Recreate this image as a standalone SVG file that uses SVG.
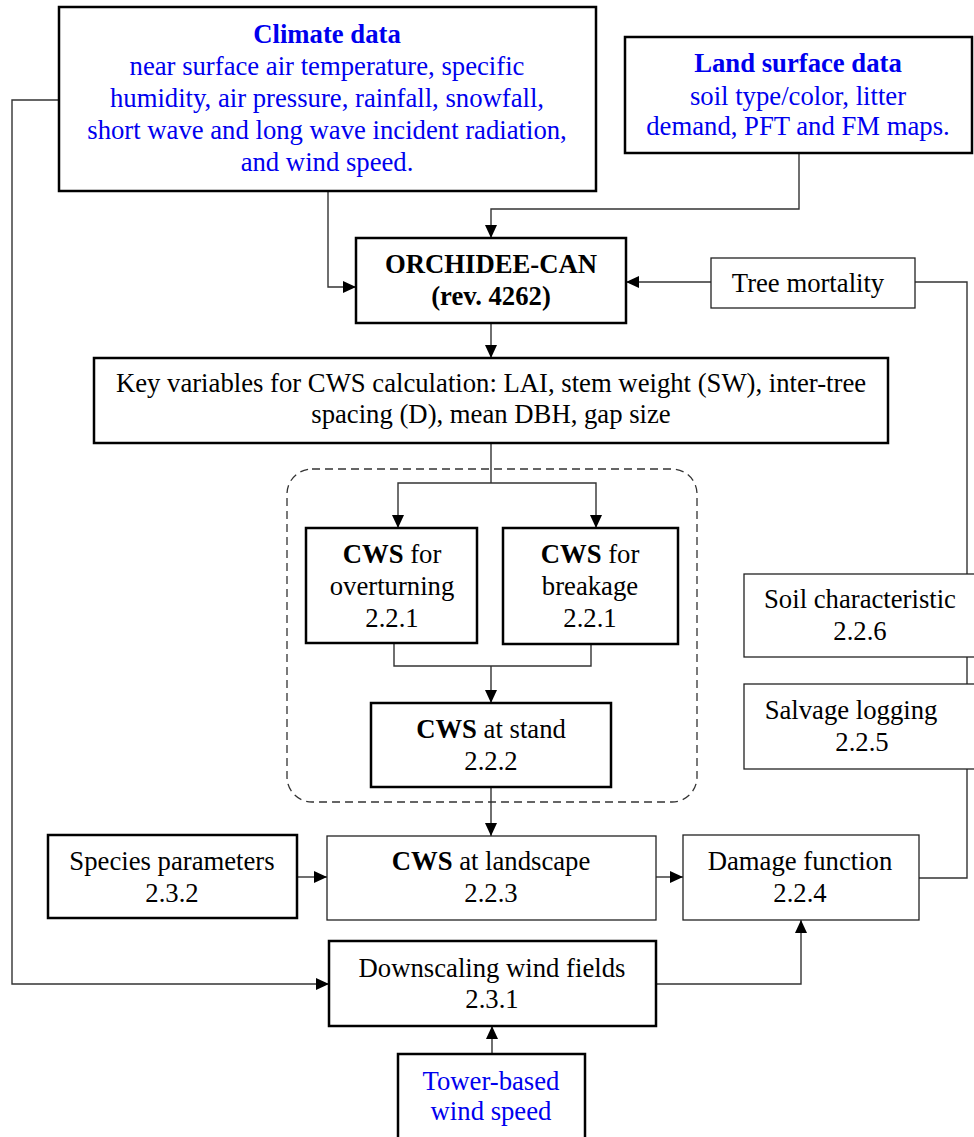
<svg xmlns="http://www.w3.org/2000/svg" width="974" height="1137" viewBox="0 0 974 1137">
<defs>
<marker id="ah" markerUnits="userSpaceOnUse" markerWidth="14" markerHeight="14" viewBox="0 0 14 14" refX="13" refY="7" orient="auto">
<path d="M0,1 L13,7 L0,13 Z" fill="#000"/>
</marker>
</defs>
<style>
text{font-family:"Liberation Serif","Times New Roman",serif;font-size:26.7px;fill:#000;text-anchor:middle}
.b{font-weight:bold}
.blue{fill:#0000ee}
.thick{fill:#fff;stroke:#000;stroke-width:2.5}
.thin{fill:#fff;stroke:#222;stroke-width:1.3}
.c{fill:none;stroke:#333;stroke-width:1.4}
.ca{fill:none;stroke:#333;stroke-width:1.4;marker-end:url(#ah)}
.dash{fill:none;stroke:#333;stroke-width:1.3;stroke-dasharray:8 5}
</style>
<g id="connectors">
<polyline class="ca" points="59,100 12,100 12,984 329,984"/>
<polyline class="ca" points="328,191 328,287 356,287"/>
<polyline class="ca" points="799,153 799,209 491,209 491,238"/>
<line class="ca" x1="711" y1="282" x2="626" y2="282"/>
<polyline class="c" points="915,282 967,282 967,878 919,878"/>
<line class="ca" x1="491" y1="323" x2="491" y2="358"/>
<polyline class="c" points="491,443 491,483"/>
<polyline class="ca" points="491,483 398,483 398,528"/>
<polyline class="ca" points="491,483 596,483 596,528"/>
<polyline class="c" points="394,643 394,666 591,666 591,644"/>
<line class="ca" x1="491" y1="666" x2="491" y2="703"/>
<line class="ca" x1="491" y1="787" x2="491" y2="836"/>
<line class="ca" x1="297" y1="877" x2="327" y2="877"/>
<line class="ca" x1="656" y1="877" x2="683" y2="877"/>
<polyline class="ca" points="656,984 801,984 801,920"/>
<line class="ca" x1="492" y1="1054" x2="492" y2="1026"/>
</g>
<rect class="dash" x="287" y="469" width="410" height="333" rx="25" ry="25"/>
<g id="climate">
<rect class="thick" x="59" y="7" width="537" height="184"/>
<text class="b blue" x="327" y="43">Climate data</text>
<text class="blue" x="327" y="75">near surface air temperature, specific</text>
<text class="blue" x="327" y="107">humidity, air pressure, rainfall, snowfall,</text>
<text class="blue" x="327" y="139">short wave and long wave incident radiation,</text>
<text class="blue" x="327" y="171">and wind speed.</text>
</g>
<g id="land">
<rect class="thick" x="625" y="37" width="347" height="116"/>
<text class="b blue" x="798" y="72">Land surface data</text>
<text class="blue" x="798" y="105">soil type/color, litter</text>
<text class="blue" x="798" y="135">demand, PFT and FM maps.</text>
</g>
<g id="orchidee">
<rect class="thick" x="356" y="238" width="270" height="85"/>
<text class="b" x="491" y="273">ORCHIDEE-CAN</text>
<text class="b" x="491" y="305">(rev. 4262)</text>
</g>
<g id="tree-mortality">
<rect class="thin" x="711" y="258" width="204" height="50"/>
<text x="808" y="292">Tree mortality</text>
</g>
<g id="key-variables">
<rect class="thick" x="94" y="358" width="794" height="85"/>
<text x="491" y="392">Key variables for CWS calculation: LAI, stem weight (SW), inter-tree</text>
<text x="491" y="423">spacing (D), mean DBH, gap size</text>
</g>
<g id="cws-overturning">
<rect class="thick" x="306" y="528" width="171" height="115"/>
<text x="392" y="563"><tspan class="b">CWS</tspan> for</text>
<text x="392" y="595">overturning</text>
<text x="392" y="627">2.2.1</text>
</g>
<g id="cws-breakage">
<rect class="thick" x="503" y="528" width="175" height="116"/>
<text x="590" y="563"><tspan class="b">CWS</tspan> for</text>
<text x="590" y="595">breakage</text>
<text x="590" y="627">2.2.1</text>
</g>
<g id="cws-stand">
<rect class="thick" x="371" y="703" width="240" height="84"/>
<text x="491" y="738"><tspan class="b">CWS</tspan> at stand</text>
<text x="491" y="770">2.2.2</text>
</g>
<g id="soil">
<rect class="thin" x="744" y="574" width="240" height="83"/>
<text x="860" y="608">Soil characteristic</text>
<text x="860" y="640">2.2.6</text>
</g>
<g id="salvage">
<rect class="thin" x="744" y="684" width="240" height="85"/>
<text x="851" y="719">Salvage logging</text>
<text x="862" y="751">2.2.5</text>
</g>
<g id="species">
<rect class="thick" x="48" y="835" width="249" height="83"/>
<text x="172" y="870">Species parameters</text>
<text x="172" y="902">2.3.2</text>
</g>
<g id="cws-landscape">
<rect class="thin" x="327" y="836" width="329" height="84"/>
<text x="491" y="870"><tspan class="b">CWS</tspan> at landscape</text>
<text x="491" y="902">2.2.3</text>
</g>
<g id="damage">
<rect class="thin" x="683" y="835" width="236" height="85"/>
<text x="800" y="870">Damage function</text>
<text x="800" y="902">2.2.4</text>
</g>
<g id="downscaling">
<rect class="thick" x="329" y="941" width="327" height="85"/>
<text x="492" y="977">Downscaling wind fields</text>
<text x="492" y="1008">2.3.1</text>
</g>
<g id="tower">
<rect class="thick" x="398" y="1054" width="187" height="100"/>
<text class="blue" x="491" y="1090">Tower-based</text>
<text class="blue" x="491" y="1120">wind speed</text>
</g>
</svg>
